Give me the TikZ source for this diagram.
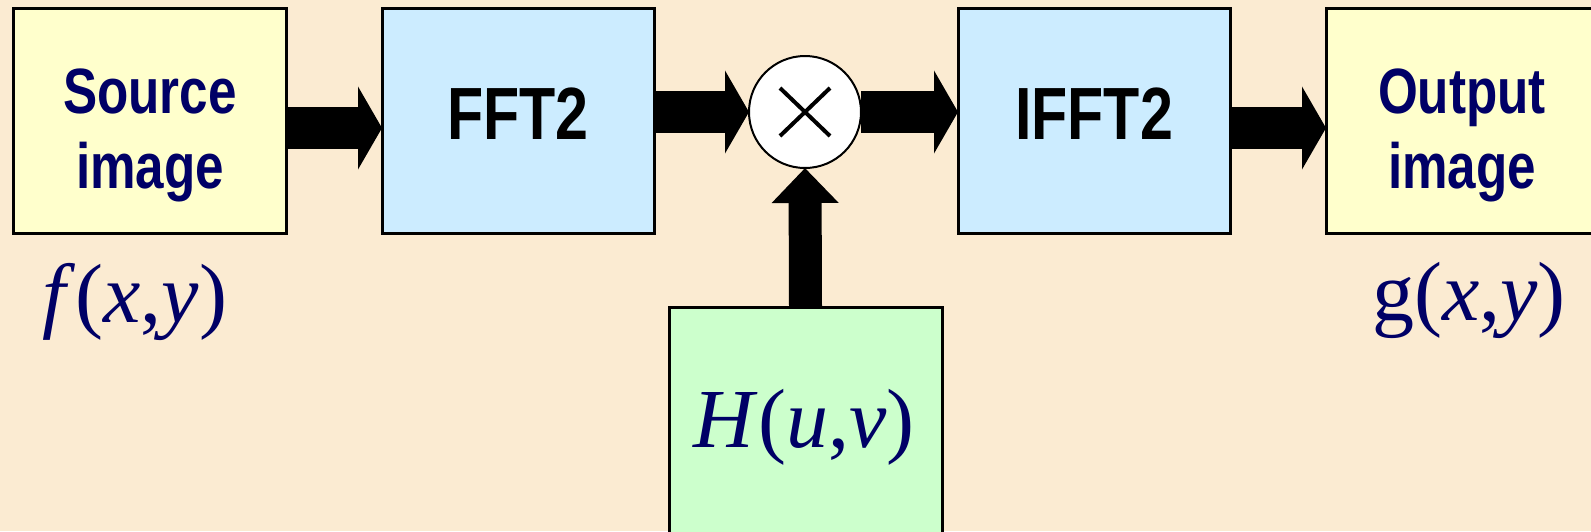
\documentclass[tikz,border=0pt]{standalone}
\usepackage{fontspec}
\setmainfont{Liberation Serif}
\newfontfamily\boxfont[FakeStretch=0.8]{Liberation Sans}
\usetikzlibrary{arrows.meta}
\definecolor{bg}{HTML}{FBEBD2}
\definecolor{navy}{HTML}{000066}
\definecolor{ylw}{HTML}{FFFFCC}
\definecolor{blu}{HTML}{CCECFF}
\definecolor{grn}{HTML}{CCFFCC}
\begin{document}
\begin{tikzpicture}[x=0.5pt,y=-0.5pt,
  block/.style={draw=black,line width=1.5pt,inner sep=0pt,outer sep=0pt,anchor=north west},
  bigarrow/.style={line width=21pt,-{Triangle[length=12pt,width=41pt]}},
  uparrow/.style={line width=16.5pt,-{Triangle[length=17.5pt,width=32.5pt]}},
  boxtxt/.style={font=\boxfont\bfseries\fontsize{32}{37.5}\selectfont,text=navy,align=center,anchor=base,inner sep=0pt},
  optxt/.style={font=\boxfont\bfseries\fontsize{37}{44}\selectfont,text=black,anchor=base,inner sep=0pt},
  mtxt/.style={font=\fontsize{42}{50}\selectfont,text=navy,anchor=base,inner sep=0pt}]
\useasboundingbox (0,0) rectangle (1591,531);
\clip (0,0) rectangle (1591,531);
\fill[bg] (0,0) rectangle (1591,531);
% blocks
\node[block,fill=ylw,minimum width=136.5pt,minimum height=112.5pt] (src) at (13,8) {};
\node[block,fill=blu,minimum width=136pt,minimum height=112.5pt] (fft) at (382,8) {};
\node[block,fill=blu,minimum width=136pt,minimum height=112.5pt] (ifft) at (958,8) {};
\node[block,fill=ylw,minimum width=137pt,minimum height=112.5pt] (out) at (1326,8) {};
\node[block,fill=grn,minimum width=136.5pt,minimum height=115pt] (h) at (669,307) {};
\node[circle,draw=black,line width=1pt,outer sep=0pt,fill=white,minimum size=56pt,inner sep=0pt] (mul) at (805,112) {};
% cross
\draw[line width=2pt] ([shift={(-25,-24)}]mul.center) -- ([shift={(25,24)}]mul.center);
\draw[line width=2pt] ([shift={(-25,24)}]mul.center) -- ([shift={(25,-24)}]mul.center);
% arrows
\draw[bigarrow] ([yshift=-3.75pt]src.east) -- ([yshift=-3.75pt]fft.west);
\draw[bigarrow] ([yshift=4.25pt]fft.east) -- (mul.west);
\draw[bigarrow] (mul.east) -- ([yshift=4.25pt]ifft.west);
\draw[bigarrow] ([yshift=-3.75pt]ifft.east) -- ([yshift=-3.75pt]out.west);
\draw[uparrow] (h.north) -- (mul.south);
% texts
\node[boxtxt] (srct) at (150,188) {Source\\image};
\node[boxtxt] (outt) at (1462,188) {Output\\image};
\node[optxt] (fftt) at (518,139) {FFT2};
\node[optxt] (ifftt) at (1094,139) {IFFT2};
\node[mtxt] (ftxt) at (135,322) {\textit{f}(\textit{x},\textit{y})};
\node[mtxt] (gtxt) at (1469,320) {g(\textit{x},\textit{y})};
\node[mtxt] (htxt) at (804,447) {\textit{H}(\textit{u},\textit{v})};
\end{tikzpicture}
\end{document}
